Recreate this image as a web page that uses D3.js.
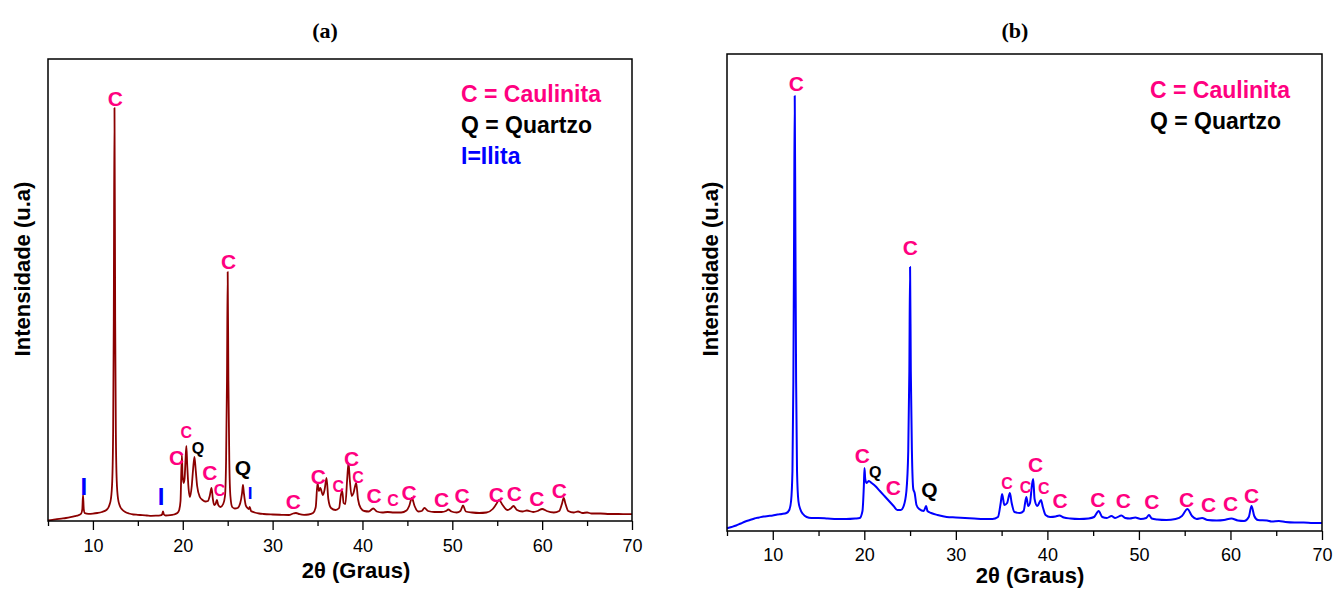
<!DOCTYPE html>
<html>
<head>
<meta charset="utf-8">
<script src="https://cdn.jsdelivr.net/npm/d3@7"></script>
<style>
  html, body { margin: 0; padding: 0; background: #fff; }
  svg { display: block; }
</style>
</head>
<body>
<svg id="chart" width="1335" height="590"></svg>
<script>
// ---------------- DATA ----------------
// Panel (a): 2θ (degrees) and intensity (arbitrary units)
const thetaA = [5.0,5.5,6.0,6.5,7.0,7.5,8.0,8.4,8.7,8.82,8.9,8.98,9.1,9.5,10.0,10.5,11.0,11.5,11.8,12.0,12.15,12.25,12.32,12.4,12.48,12.55,12.65,12.8,13.0,13.3,13.6,14.0,14.5,15.0,15.5,16.0,16.5,17.0,17.5,17.7,17.8,17.9,18.1,18.6,19.0,19.4,19.6,19.75,19.9,19.98,20.1,20.2,20.3,20.4,20.5,20.65,20.8,21.0,21.15,21.3,21.45,21.6,21.9,22.2,22.5,22.8,23.0,23.2,23.35,23.5,23.65,23.8,23.95,24.2,24.5,24.7,24.82,24.92,25.0,25.08,25.18,25.3,25.5,25.8,26.1,26.4,26.6,26.7,26.8,27.0,27.2,27.35,27.45,27.6,28.0,28.5,29.0,30.0,31.0,31.8,32.3,32.6,33.0,33.5,34.0,34.5,34.8,35.0,35.15,35.3,35.6,35.8,36.0,36.2,36.5,37.0,37.4,37.6,37.75,37.9,38.1,38.3,38.45,38.6,38.8,39.0,39.3,39.5,39.8,40.2,40.7,41.2,41.6,42.2,42.8,43.5,44.3,44.9,45.2,45.5,45.8,46.2,46.6,46.9,47.3,48.0,48.8,49.3,49.55,49.9,50.5,50.9,51.2,51.5,52.2,53.0,53.8,54.5,54.9,55.2,55.6,56.1,56.5,56.8,57.2,57.8,58.3,59.0,59.5,60.0,60.5,61.3,61.9,62.2,62.4,62.6,62.9,63.5,64.0,64.5,65.0,65.5,66.5,67.5,68.5,69.5,70.0];
const intensityA = [7,12,18,24,30,38,48,58,75,120,260,120,78,72,74,80,90,110,150,220,400,900,2000,4130,2000,900,400,220,150,110,90,75,65,62,58,55,52,53,56,65,95,65,55,58,65,80,110,200,660,450,380,420,600,750,550,320,240,350,520,640,500,350,240,210,195,200,250,330,220,160,170,210,160,140,170,250,600,1400,2490,1400,600,250,140,125,130,180,280,360,280,160,130,120,140,100,85,75,70,65,62,60,75,80,68,62,65,80,140,380,300,330,260,320,430,220,130,110,130,260,300,180,170,420,580,400,250,280,380,220,130,100,95,125,95,85,90,85,85,105,150,230,150,95,100,130,100,90,90,100,115,95,85,100,155,95,85,80,85,120,170,210,160,110,125,150,110,95,105,90,100,120,100,85,100,170,230,170,100,85,95,80,85,75,75,70,70,68,68];

// Panel (b)
const thetaB = [5.0,5.5,6.0,6.5,7.0,7.5,8.0,8.5,9.0,9.5,10.0,10.5,11.0,11.5,11.8,12.0,12.15,12.25,12.33,12.4,12.47,12.55,12.65,12.8,13.0,13.3,13.7,14.2,15.0,16.0,17.0,18.0,19.0,19.5,19.8,19.95,20.02,20.1,20.25,20.5,20.8,21.2,21.7,22.2,22.7,23.2,23.6,24.0,24.3,24.6,24.8,24.92,25.0,25.08,25.2,25.35,25.5,25.7,26.0,26.5,26.75,26.9,27.3,28.0,29.0,30.0,31.0,32.0,33.0,34.0,34.6,34.9,35.05,35.3,35.6,35.9,36.1,36.4,37.0,37.4,37.7,37.9,38.1,38.3,38.45,38.6,38.9,39.3,39.5,39.8,40.3,40.9,41.3,41.8,42.5,43.5,44.5,45.1,45.6,46.0,46.5,47.0,47.4,48.1,48.5,49.0,49.6,50.2,50.8,51.1,51.4,52.0,53.0,54.0,54.7,55.3,55.8,56.3,56.9,57.5,58.5,59.3,60.1,60.8,61.5,62.0,62.3,62.6,63.0,64.0,64.5,65.3,66.0,67.0,68.0,69.0,70.0];
const intensityB = [27,40,55,75,95,110,125,135,145,150,155,165,170,180,210,300,600,1500,3000,4350,3000,1500,600,300,220,170,140,130,130,125,120,120,125,130,200,450,630,520,480,500,480,450,400,350,300,250,210,210,250,400,800,1600,2640,1600,800,420,380,260,220,200,250,200,180,160,140,135,130,125,120,120,140,280,370,260,280,380,280,190,180,200,340,250,280,450,520,320,250,310,240,160,140,145,155,135,125,120,125,140,200,140,130,150,130,155,130,125,135,120,130,160,125,115,110,120,150,220,150,120,130,110,105,110,125,105,100,140,250,150,110,105,95,100,90,85,85,80,80];

// Peak annotations: kind (C big Caulinita, c small Caulinita, Q quartz, q small quartz, I illite, i small illite), 2θ, label height (intensity units)
const labelKindA  = ["C","C","I","I","C","c","q","C","c","Q","i","C","C","c","C","c","C","c","C","C","C","C","C","C","C"];
const labelThetaA = [12.5,25.1,9.0,17.6,19.3,20.4,21.7,23.0,24.1,26.7,27.5,32.3,35.1,37.3,38.8,39.5,41.3,43.4,45.2,48.8,51.1,54.9,56.9,59.4,61.9];
const labelLevelA = [4230,2600,350,250,640,890,730,490,310,540,280,200,450,350,630,440,260,210,290,220,260,270,280,230,310];

const labelKindB  = ["C","C","C","q","C","Q","c","c","C","c","C","C","C","C","C","C","C","C"];
const labelThetaB = [12.57,25.03,19.78,21.2,23.17,27.1,35.6,37.6,38.7,39.6,41.4,45.5,48.3,51.4,55.2,57.6,60.0,62.3];
const labelLevelB = [4480,2840,760,590,440,420,480,440,670,430,310,320,310,300,320,270,280,360];

const legendA = ["C = Caulinita","Q = Quartzo","I=Ilita"];
const legendKindA = ["C","Q","I"];
const legendB = ["C = Caulinita","Q = Quartzo"];
const legendKindB = ["C","Q"];

const majorTicks = [10,20,30,40,50,60,70];
const minorTicks = [5,15,25,35,45,55,65];
const panelTitles = ["(a)","(b)"];
const xTitle = "2θ (Graus)";
const yTitle = "Intensidade (u.a)";

// ---------------- STYLES ----------------
const PINK = "#ff0080";
const kindStyle = {
  C: {fill: PINK, size: 21},
  c: {fill: PINK, size: 16},
  Q: {fill: "#000", size: 21},
  q: {fill: "#000", size: 16},
  I: {fill: "#0000ff", size: 24},
  i: {fill: "#0000ff", size: 17}
};
const legendColor = {C: PINK, Q: "#000", I: "#0000ff"};

const svg = d3.select("#chart");
const SANS = "'Liberation Sans', Arial, Helvetica, sans-serif";
const SERIF = "'Liberation Serif', 'Times New Roman', serif";

function drawPanel(cfg) {
  const x = d3.scaleLinear().domain([5, 70]).range([cfg.left, cfg.right]);
  const y = d3.scaleLinear().domain([0, cfg.ymax]).range([cfg.bottom, cfg.top]);
  const g = svg.append("g");

  // title
  g.append("text")
    .attr("x", cfg.titleX).attr("y", 30).attr("dy", "0.35em")
    .attr("text-anchor", "middle")
    .style("font-family", SERIF).style("font-weight", "bold").style("font-size", "22px")
    .text(cfg.title);

  // x axis: minor then major ticks
  const axMinor = g.append("g")
    .attr("transform", `translate(0,${cfg.bottom})`)
    .call(d3.axisBottom(x).tickValues(minorTicks).tickSize(5).tickFormat(""));
  axMinor.select(".domain").remove();
  axMinor.selectAll(".tick line").attr("stroke", "#000").attr("stroke-width", 1.3);

  const ax = g.append("g")
    .attr("transform", `translate(0,${cfg.bottom})`)
    .call(d3.axisBottom(x).tickValues(majorTicks).tickSize(9).tickPadding(cfg.tickPad));
  ax.select(".domain").remove();
  ax.selectAll(".tick line").attr("stroke", "#000").attr("stroke-width", 1.3);
  ax.selectAll(".tick text").style("font-family", SANS).style("font-size", "18px").attr("fill", "#000");

  // data line
  const pts = cfg.theta.map((t, i) => [t, cfg.intensity[i]]);
  g.append("path")
    .datum(pts)
    .attr("fill", "none")
    .attr("stroke", cfg.color)
    .attr("stroke-width", cfg.lw)
    .attr("stroke-linejoin", "round")
    .attr("d", d3.line().x(d => x(d[0])).y(d => y(d[1])).curve(d3.curveMonotoneX));

  // frame
  g.append("rect")
    .attr("x", cfg.left).attr("y", cfg.top)
    .attr("width", cfg.right - cfg.left).attr("height", cfg.bottom - cfg.top)
    .attr("fill", "none").attr("stroke", "#000").attr("stroke-width", 1.5);

  // peak labels
  cfg.kinds.forEach((k, i) => {
    const s = kindStyle[k];
    g.append("text")
      .attr("x", x(cfg.lTheta[i])).attr("y", y(cfg.lLevel[i])).attr("dy", "0.36em")
      .attr("text-anchor", "middle")
      .style("font-family", SANS).style("font-weight", "bold").style("font-size", s.size + "px")
      .attr("fill", s.fill)
      .text(k.toUpperCase());
  });

  // legend
  cfg.legend.forEach((t, i) => {
    g.append("text")
      .attr("x", cfg.legendX).attr("y", cfg.legendY + i * 31).attr("dy", "0.36em")
      .style("font-family", SANS).style("font-weight", "bold").style("font-size", "23px")
      .attr("fill", legendColor[cfg.legendKinds[i]])
      .text(t);
  });

  // axis titles
  g.append("text")
    .attr("x", cfg.xTitleX).attr("y", cfg.xTitleY).attr("dy", "0.35em")
    .attr("text-anchor", "middle")
    .style("font-family", SANS).style("font-weight", "bold").style("font-size", "22px")
    .text(xTitle);
  g.append("text")
    .attr("transform", `translate(${cfg.yTitleX},269) rotate(-90)`)
    .attr("dy", "0.35em")
    .attr("text-anchor", "middle")
    .style("font-family", SANS).style("font-weight", "bold").style("font-size", "22px")
    .text(yTitle);
}

drawPanel({
  left: 48, right: 632, top: 59, bottom: 521, ymax: 4620,
  theta: thetaA, intensity: intensityA, color: "#8b0000", lw: 1.8,
  kinds: labelKindA, lTheta: labelThetaA, lLevel: labelLevelA,
  legend: legendA, legendKinds: legendKindA, legendX: 461, legendY: 94,
  title: panelTitles[0], titleX: 325, tickPad: 9, xTitleX: 356, xTitleY: 570, yTitleX: 22
});
drawPanel({
  left: 727, right: 1322, top: 54, bottom: 531, ymax: 4770,
  theta: thetaB, intensity: intensityB, color: "#0000ff", lw: 2,
  kinds: labelKindB, lTheta: labelThetaB, lLevel: labelLevelB,
  legend: legendB, legendKinds: legendKindB, legendX: 1150, legendY: 90,
  title: panelTitles[1], titleX: 1015, tickPad: 8, xTitleX: 1030, xTitleY: 575, yTitleX: 710
});
</script>
</body>
</html>
